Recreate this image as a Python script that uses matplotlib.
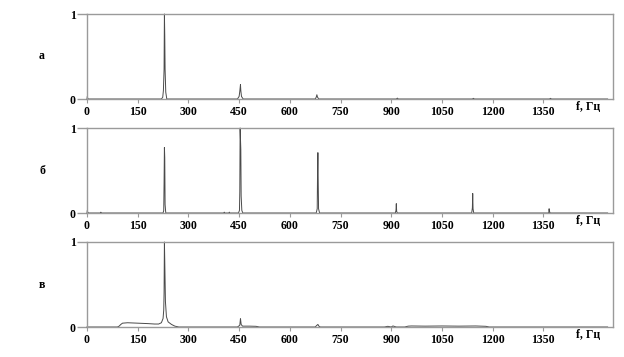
import matplotlib
matplotlib.use("Agg")
import matplotlib.pyplot as plt

# Panel labels and axis ticks
panel_labels = ["а", "б", "в"]
x_ticks = [0, 150, 300, 450, 600, 750, 900, 1050, 1200, 1350]
y_ticks = [0, 1]
x_label = "f, Гц"

# Spectrum a (frequency in Hz, normalized amplitude)
freq_a = [0, 1, 2, 4, 220, 224, 226, 228, 229, 230, 231, 233, 236, 445, 450, 452, 454, 455, 457, 462,
          675, 678, 680, 682, 686, 915, 918, 921, 1140, 1143, 1146, 1368, 1371, 1374, 1540]
amp_a = [0.0, 0.03, 0.01, 0.0, 0.0, 0.02, 0.1, 0.35, 1.0, 0.75, 0.35, 0.08, 0.0, 0.0, 0.03, 0.09, 0.17, 0.1, 0.03, 0.0,
         0.0, 0.02, 0.05, 0.02, 0.0, 0.0, 0.01, 0.0, 0.0, 0.008, 0.0, 0.0, 0.008, 0.0, 0.0]

# Spectrum б
freq_b = [0, 1, 2, 5, 40, 41, 42, 225, 227, 228, 229, 230, 231, 233, 405, 406, 407, 420, 421, 422,
          448, 451, 452, 453, 454, 455, 456, 458, 461, 678, 681, 682, 683, 684, 685, 688,
          912, 914, 915, 916, 918, 1138, 1140, 1141, 1142, 1144, 1366, 1367, 1368, 1370, 1540]
amp_b = [0.0, 0.03, 0.01, 0.0, 0.0, 0.01, 0.0, 0.0, 0.03, 0.35, 0.77, 0.65, 0.1, 0.0, 0.0, 0.01, 0.0, 0.0, 0.01, 0.0,
         0.0, 0.03, 0.25, 1.0, 0.87, 0.75, 0.2, 0.03, 0.0, 0.0, 0.05, 0.48, 0.71, 0.35, 0.05, 0.0,
         0.0, 0.03, 0.11, 0.02, 0.0, 0.0, 0.06, 0.23, 0.05, 0.0, 0.0, 0.05, 0.02, 0.0, 0.0]

# Spectrum в
freq_c = [0, 90, 95, 100, 105, 120, 150, 180, 200, 212, 220, 225, 227, 228, 229, 230, 232, 235, 240, 250, 260, 272,
          445, 452, 454, 456, 460, 480, 500, 510, 675, 680, 683, 686, 690,
          880, 890, 900, 905, 915, 940, 950, 960, 1000, 1050, 1100, 1150, 1180, 1190, 1540]
amp_c = [0.0, 0.0, 0.01, 0.03, 0.045, 0.05, 0.045, 0.04, 0.035, 0.035, 0.05, 0.1, 0.2, 0.4, 1.0, 0.78, 0.3, 0.12, 0.06, 0.03, 0.01, 0.0,
         0.0, 0.02, 0.1, 0.03, 0.01, 0.01, 0.008, 0.0, 0.0, 0.02, 0.03, 0.01, 0.0,
         0.0, 0.008, 0.0, 0.012, 0.0, 0.0, 0.01, 0.012, 0.01, 0.012, 0.01, 0.012, 0.008, 0.0, 0.0]

spectra = [(freq_a, amp_a), (freq_b, amp_b), (freq_c, amp_c)]

plt.rcParams['font.family'] = ['Liberation Serif', 'DejaVu Serif']
plt.rcParams['font.weight'] = 'bold'

W, H = 624, 357
fig = plt.figure(figsize=(W / 100, H / 100), dpi=100)

left_px, right_px = 87, 613
tops = [14, 128, 242]
bottoms = [99, 213, 327]
label_y = [56, 171, 285]
spine_col = "#9a9a9a"

for i, (f, a) in enumerate(spectra):
    ax = fig.add_axes([left_px / W, 1 - bottoms[i] / H, (right_px - left_px) / W, (bottoms[i] - tops[i]) / H])
    ax.plot(f, a, color="#4a4a4a", lw=0.7, clip_on=False)
    ax.set_xlim(0, 1556)
    ax.set_ylim(0, 1)
    for s in ax.spines.values():
        s.set_color(spine_col)
        s.set_linewidth(1.0)
    ax.set_xticks(x_ticks)
    ax.set_xticklabels([str(t) for t in x_ticks], fontsize=8.5, fontweight='bold')
    ax.set_yticks(y_ticks)
    ax.set_yticklabels([str(t) for t in y_ticks], fontsize=8.5, fontweight='bold')
    ax.tick_params(axis='x', direction='out', length=3, width=0.8, color=spine_col, pad=2)
    ax.tick_params(axis='y', direction='out', length=7, width=1.0, color=spine_col, pad=1)
    ax.text(0.953, -0.1, x_label, transform=ax.transAxes, ha='center', va='center',
            fontsize=8.5, fontweight='bold')
    fig.text(42 / W, 1 - label_y[i] / H, panel_labels[i], ha='center', va='center',
             fontsize=8.5, fontweight='bold')

fig.savefig("out.png", dpi=100)
